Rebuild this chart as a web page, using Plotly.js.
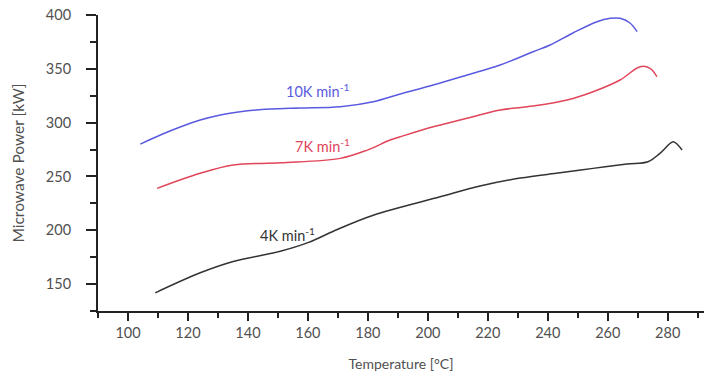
<!DOCTYPE html>
<html>
<head>
<meta charset="utf-8">
<script src="https://cdn.plot.ly/plotly-3.0.1.min.js"></script>
<style>html,body{margin:0;padding:0;background:#fff;}#chart{width:704px;height:376px;}</style>
</head>
<body>
<div id="chart"></div>
<script>
// 10 K/min
const tempBlue = [104.1, 110.8, 117.4, 124.1, 130.8, 137.4, 147.4, 157.4, 170.8, 181.8, 190.8, 201.8, 213.1, 224.1, 235.1, 240.8, 248.4, 256.4, 260.8, 264.1, 267.4, 269.8];
const powerBlue = [280.1, 288.5, 295.9, 302.4, 307.1, 310.1, 312.6, 313.6, 314.8, 319.4, 326.6, 334.9, 344.2, 353.5, 365.9, 372.1, 383.3, 393.8, 396.9, 396.9, 392.6, 384.5];
// 7 K/min
const tempRed = [109.7, 124.1, 135.1, 150.8, 170.8, 179.8, 187.4, 190.8, 201.8, 213.1, 224.1, 235.1, 246.4, 255.1, 264.1, 270.8, 274.1, 276.4];
const powerRed = [238.9, 252.9, 260.6, 262.7, 266.8, 274.5, 283.8, 286.9, 296.2, 304.0, 311.7, 315.4, 321.0, 328.7, 339.6, 352.0, 350.5, 342.7];
// 4 K/min
const tempBlack = [109.1, 124.1, 135.1, 150.8, 160.0, 170.0, 181.8, 204.1, 217.4, 230.8, 244.1, 255.1, 266.4, 273.4, 277.4, 281.8, 283.4, 284.8];
const powerBlack = [141.9, 160.5, 171.0, 180.5, 188.5, 201.0, 214.0, 231.1, 241.1, 248.5, 253.4, 257.5, 261.5, 263.7, 271.5, 282.2, 279.2, 274.5];

const seriesLabels = ["10K min<sup>-1</sup>", "7K min<sup>-1</sup>", "4K min<sup>-1</sup>"];
const xTitle = "Temperature [°C]";
const yTitle = "Microwave Power [kW]";

const colors = ["#5a5ae0", "#e0455a", "#333333"];
const font = "Lato, 'Open Sans', sans-serif";
const textColor = "#505050";

const traces = [
  {x: tempBlue, y: powerBlue, mode: "lines", line: {color: colors[0], width: 1.5, shape: "spline"}},
  {x: tempRed, y: powerRed, mode: "lines", line: {color: colors[1], width: 1.5, shape: "spline"}},
  {x: tempBlack, y: powerBlack, mode: "lines", line: {color: colors[2], width: 1.5, shape: "spline"}}
];

const annPos = [[163.1, 330.3], [164.8, 278.3], [153.1, 196.5]];
const annotations = seriesLabels.map((t, i) => ({
  x: annPos[i][0], y: annPos[i][1], xref: "x", yref: "y", text: t, showarrow: false,
  font: {family: font, size: 14.5, color: colors[i]}
}));

const layout = {
  width: 704, height: 376,
  margin: {l: 98, r: 0, t: 15, b: 65},
  paper_bgcolor: "#fff", plot_bgcolor: "#fff",
  showlegend: false,
  font: {family: font, size: 14, color: textColor},
  xaxis: {
    range: [90, 292.1], tickmode: "linear", tick0: 100, dtick: 20,
    ticks: "outside", ticklen: 8, tickwidth: 2, tickcolor: "#222",
    minor: {dtick: 10, tick0: 90, ticks: "outside", ticklen: 5, tickwidth: 2, tickcolor: "#222"},
    showline: true, linecolor: "#222", linewidth: 2, showgrid: false, zeroline: false,
    tickfont: {family: font, size: 14.5, color: textColor},
    title: {text: xTitle, font: {family: font, size: 14, color: textColor}, standoff: 19}
  },
  yaxis: {
    range: [125, 400], tickmode: "linear", tick0: 150, dtick: 50,
    ticks: "outside", ticklen: 10, tickwidth: 2, tickcolor: "#222",
    minor: {dtick: 25, tick0: 125, ticks: "outside", ticklen: 6, tickwidth: 2, tickcolor: "#222"},
    showline: true, linecolor: "#222", linewidth: 2, showgrid: false, zeroline: false,
    ticklabelstandoff: 12,
    tickfont: {family: font, size: 14.5, color: textColor},
    title: {text: yTitle, font: {family: font, size: 15.5, color: textColor}, standoff: 17}
  },
  annotations: annotations
};

Plotly.newPlot("chart", traces, layout, {displayModeBar: false, staticPlot: true});
</script>
</body>
</html>
